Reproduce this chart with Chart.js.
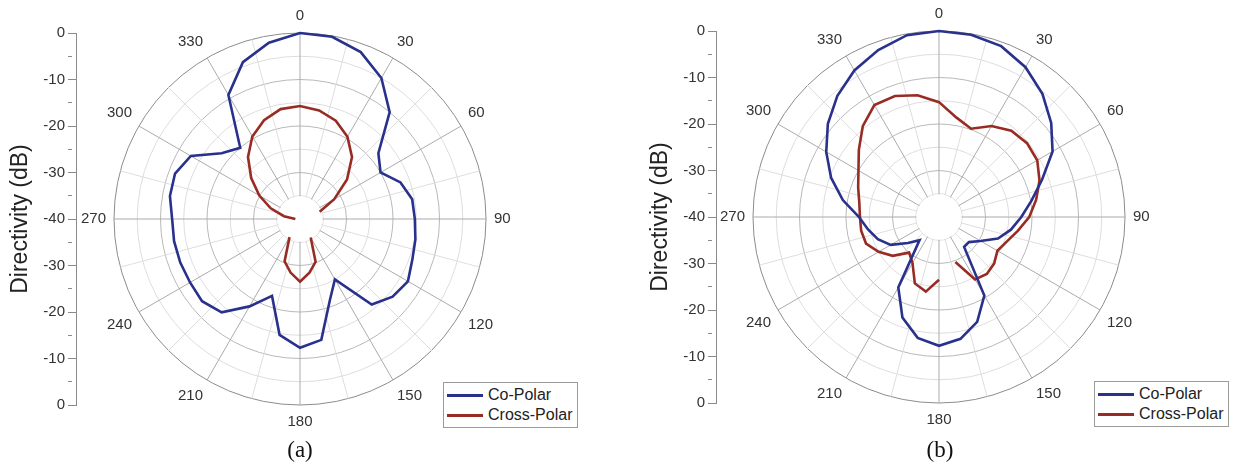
<!DOCTYPE html>
<html>
<head>
<meta charset="utf-8">
<title>Directivity patterns</title>
<script src="https://cdn.jsdelivr.net/npm/chart.js@4.4.1/dist/chart.umd.min.js"></script>
<style>
  body { margin: 0; background: #fff; }
  #page { position: relative; width: 1236px; height: 466px; overflow: hidden; background: #fff;
          font-family: 'Liberation Sans', Arial, sans-serif; }
  canvas { position: absolute; top: 0; }
  .legend { position: absolute; width: 133px; height: 42px; border: 1px solid #9a9a9a; background: #fff;
            font-size: 16px; color: #222; padding-top: 2px; box-sizing: content-box; }
  .legend .item { display: flex; align-items: center; height: 20px; margin-left: 3px; }
  .legend .swatch { display: inline-block; width: 36px; height: 0; border-top: 3px solid; margin-right: 5px; }
  .caption { position: absolute; width: 60px; text-align: center; color: #111;
             font-family: 'Liberation Serif', 'Times New Roman', serif; font-size: 23px; }
</style>
</head>
<body>
<div id="page">
  <canvas id="axisA" width="90" height="466" style="left:0px"></canvas>
  <canvas id="polarA" width="500" height="440" style="left:50px"></canvas>
  <div class="legend" id="legendA" style="left:443px; top:382px"></div>
  <div class="caption" style="left:270px; top:437px">(a)</div>

  <canvas id="axisB" width="90" height="466" style="left:640px"></canvas>
  <canvas id="polarB" width="500" height="440" style="left:689px"></canvas>
  <div class="legend" id="legendB" style="left:1094px; top:381px"></div>
  <div class="caption" style="left:910px; top:437px">(b)</div>
</div>

<script>
'use strict';

// measured cut angles (deg, clockwise from 0)
var angles = [0, 10, 20, 30, 40, 50, 60, 70, 80, 90, 100, 110, 120, 130, 140, 150, 160, 170,
              180, 190, 200, 210, 220, 230, 240, 250, 260, 270, 280, 290, 300, 310, 320, 330, 340, 350];
// spokes of the polar grid, labelled every 30 deg
var gridAngles = [0, 15, 30, 45, 60, 75, 90, 105, 120, 135, 150, 165,
                  180, 195, 210, 225, 240, 255, 270, 285, 300, 315, 330, 345];

var dbMin = -40;
var dbMax = 0;

// (a) directivity in dB, one value per entry of angles; null = not measured
var coPolarA = [0, -0.2, -1.8, -5, -10, -18, -20, -17, -15.5, -15.3,
                -14.8, -14.3, -13.2, -14, -16, -25, -21.3, -13.6, -12.3, -14.7,
                -22.4, -18.3, -13.8, -12.5, -12.7, -12.6, -12.5, -12.5, -11.6, -11.4,
                -12.9, -18, -20, -9.2, -4.1, -1.5];
var crossPolarA = [-15.7, -16.3, -17.5, -19.6, -22.6, -26.8, -31.5, -35.5, null, null,
                   null, null, null, null, null, -35.4, -30.2, -28.3, -26.5, -28.3,
                   -30.3, -35.5, null, null, null, null, null, -39, -36.5, -33.3,
                   -29.9, -26.3, -22.6, -19.5, -17.4, -16];

// (b)
var coPolarB = [0, -0.2, -0.9, -2.8, -5.4, -8.5, -11.8, -16.4, -19.8, -22.3,
                -24.3, -26.5, -29.7, -31.6, -31.6, -20.5, -16, -13.4, -12.3, -13.6,
                -17, -22.5, -33.5, -31.3, -28, -26, -24.5, -22.8, -19, -15.3,
                -12, -8.8, -6, -3.6, -1.8, -0.3];
var crossPolarB = [-15.3, -18.3, -19.8, -17.4, -15.8, -15.3, -15.6, -17, -18.8, -20.6,
                   -22.8, -24.5, -25.5, -24.5, -24, -24.5, -29.7, null, -26.5, -23.7,
                   -24.8, -28.6, -30, -27, -25, -23.3, -23, -23, -22.6, -21.5,
                   -20, -17.5, -14.5, -12.2, -12.3, -13.4];

var coColor = '#29318c';
var crossColor = '#982c24';

Chart.defaults.font.family = "'Liberation Sans', Arial, sans-serif";
Chart.defaults.color = '#333';

// white disc in the middle of the grid, the spokes stop at the -35 dB ring
var centreHole = {
  id: 'centreHole',
  beforeDatasetsDraw: function (chart) {
    var s = chart.scales.rGrid;
    var rad = s.getDistanceFromCenterForValue(-35);
    var ctx = chart.ctx;
    ctx.save();
    ctx.beginPath();
    ctx.arc(s.xCenter, s.yCenter, rad - 0.6, 0, Math.PI * 2);
    ctx.fillStyle = '#fff';
    ctx.fill();
    ctx.restore();
  }
};

// legend as html, boxed, with line swatches
var htmlLegend = {
  id: 'htmlLegend',
  afterUpdate: function (chart, args, opts) {
    var box = document.getElementById(opts.containerID);
    box.innerHTML = '';
    chart.data.datasets.forEach(function (ds) {
      var row = document.createElement('div');
      row.className = 'item';
      var swatch = document.createElement('span');
      swatch.className = 'swatch';
      swatch.style.borderTopColor = ds.borderColor;
      var txt = document.createElement('span');
      txt.textContent = ds.label;
      row.appendChild(swatch);
      row.appendChild(txt);
      box.appendChild(row);
    });
  }
};

function makeAxis(canvasId, padTop, padBottom) {
  return new Chart(document.getElementById(canvasId), {
    type: 'line',
    data: { labels: [], datasets: [] },
    options: {
      responsive: false,
      animation: false,
      layout: { padding: { top: padTop, bottom: padBottom, left: 3, right: 0 } },
      plugins: { legend: { display: false }, tooltip: { enabled: false } },
      scales: {
        x: { display: false },
        y: {
          min: -40,
          max: 40,
          afterFit: function (scale) { scale.width = 73; },
          ticks: {
            stepSize: 5,
            autoSkip: false,
            color: '#333',
            padding: 3,
            font: { size: 15 },
            // both halves of the axis read from 0 at the rim to -40 at the centre
            callback: function (v) { return v % 10 === 0 ? String(Math.abs(v) - 40) : ''; }
          },
          grid: {
            drawOnChartArea: false,
            tickLength: 8,
            color: '#8a8a8a',
            // minor ticks only half as long
            tickBorderDash: function (ctx) { return ctx.tick && ctx.tick.value % 10 !== 0 ? [4, 100] : []; }
          },
          border: { color: '#8a8a8a' },
          title: { display: true, text: 'Directivity (dB)', color: '#222', font: { size: 23 } }
        }
      }
    }
  });
}

function makePolar(canvasId, co, cross, legendId, padTop, padBottom) {
  return new Chart(document.getElementById(canvasId), {
    type: 'radar',
    data: {
      labels: angles.map(String),
      datasets: [
        { label: 'Co-Polar', data: co, borderColor: coColor, borderWidth: 2.6, fill: false, pointRadius: 0 },
        { label: 'Cross-Polar', data: cross, borderColor: crossColor, borderWidth: 2.6, fill: false, pointRadius: 0 }
      ]
    },
    options: {
      responsive: false,
      animation: false,
      layout: { padding: { top: padTop, bottom: padBottom, left: 0, right: 0 } },
      elements: { line: { tension: 0 } },
      plugins: {
        legend: { display: false },
        tooltip: { enabled: false },
        htmlLegend: { containerID: legendId }
      },
      scales: {
        r: {
          min: dbMin,
          max: dbMax,
          ticks: { display: false, stepSize: 5 },
          grid: { display: false },
          angleLines: { display: false },
          pointLabels: { display: true, padding: 8, font: { size: 15 }, callback: function () { return ''; } }
        },
        rGrid: {
          type: 'radialLinear',
          axis: 'r',
          labels: gridAngles.map(String),
          min: dbMin,
          max: dbMax,
          ticks: { display: false, stepSize: 5 },
          grid: {
            circular: true,
            lineWidth: 1,
            color: function (ctx) {
              var v = ctx.tick.value;
              if (v === dbMax) return '#8c8c8c';
              return v % 10 === 0 ? '#b8b8b8' : '#dddddd';
            }
          },
          angleLines: {
            lineWidth: 1,
            color: function (ctx) { return ctx.index % 2 === 0 ? '#ababab' : '#dedede'; }
          },
          pointLabels: {
            display: true,
            padding: 8,
            color: '#333',
            font: { size: 15 },
            callback: function (label, i) { return i % 2 === 0 ? label : ''; }
          }
        }
      }
    },
    plugins: [centreHole, htmlLegend]
  });
}

makeAxis('axisA', 33, 61);
makePolar('polarA', coPolarA, crossPolarA, 'legendA', 7, 9);

makeAxis('axisB', 31, 63);
makePolar('polarB', coPolarB, crossPolarB, 'legendB', 5, 11);
</script>
</body>
</html>
